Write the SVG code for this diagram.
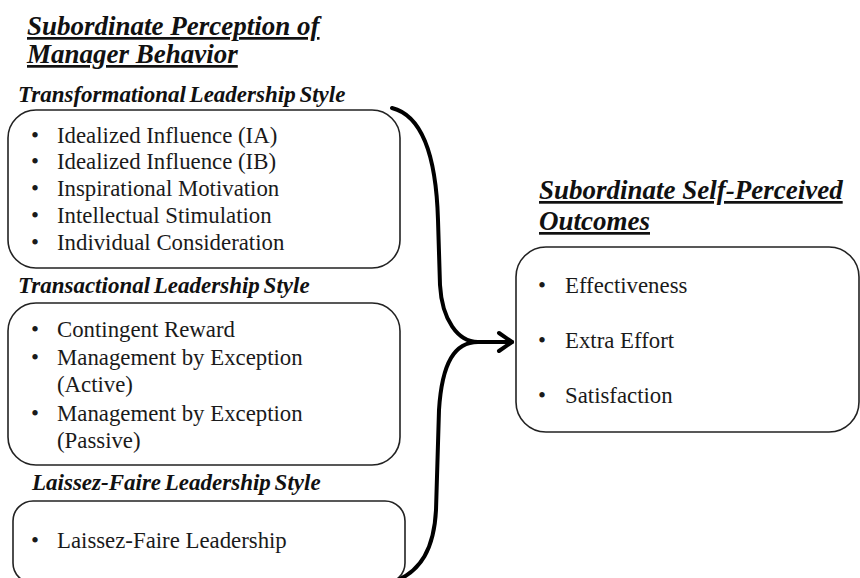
<svg xmlns="http://www.w3.org/2000/svg" width="860" height="578" viewBox="0 0 860 578">
<style>
.title{font-family:"Liberation Serif","Times New Roman",serif;font-weight:bold;font-style:italic;font-size:27px;fill:#111;text-decoration:underline;}
.head{font-family:"Liberation Serif","Times New Roman",serif;font-weight:bold;font-style:italic;font-size:23px;fill:#111;}
.item{font-family:"Liberation Serif","Times New Roman",serif;font-size:22.8px;fill:#1a1a1a;}
.box{fill:#fff;stroke:#222;stroke-width:1.6;}
.brace{fill:none;stroke:#000;stroke-width:4;stroke-linecap:round;stroke-linejoin:round;}
</style>
<rect width="860" height="578" fill="#fff"/>
<g id="title-left">
<text class="title" x="27" y="35">Subordinate Perception of</text>
<text class="title" x="27" y="63">Manager Behavior</text>
</g>
<g id="transformational">
<text class="head" x="18" y="102" word-spacing="-2">Transformational Leadership Style</text>
<rect class="box" x="8" y="110" width="392" height="158" rx="28"/>
<text class="item" x="31" y="143">•</text><text class="item" x="57" y="143">Idealized Influence (IA)</text>
<text class="item" x="31" y="169">•</text><text class="item" x="57" y="169">Idealized Influence (IB)</text>
<text class="item" x="31" y="196">•</text><text class="item" x="57" y="196">Inspirational Motivation</text>
<text class="item" x="31" y="223">•</text><text class="item" x="57" y="223">Intellectual Stimulation</text>
<text class="item" x="31" y="250">•</text><text class="item" x="57" y="250">Individual Consideration</text>
</g>
<g id="transactional">
<text class="head" x="18" y="293" word-spacing="-2">Transactional Leadership Style</text>
<rect class="box" x="8" y="303" width="392" height="162" rx="28"/>
<text class="item" x="31" y="337">•</text><text class="item" x="57" y="337">Contingent Reward</text>
<text class="item" x="31" y="365">•</text><text class="item" x="57" y="365">Management by Exception</text>
<text class="item" x="57" y="392">(Active)</text>
<text class="item" x="31" y="421">•</text><text class="item" x="57" y="421">Management by Exception</text>
<text class="item" x="57" y="448">(Passive)</text>
</g>
<g id="laissez-faire">
<text class="head" x="32" y="490" word-spacing="-2">Laissez-Faire Leadership Style</text>
<rect class="box" x="13" y="501" width="392" height="82" rx="20"/>
<text class="item" x="31" y="548">•</text><text class="item" x="57" y="548">Laissez-Faire Leadership</text>
</g>
<g id="outcomes">
<text class="title" x="539" y="199">Subordinate Self-Perceived</text>
<text class="title" x="539" y="230">Outcomes</text>
<rect class="box" x="516" y="247" width="343" height="185" rx="30"/>
<text class="item" x="538" y="293">•</text><text class="item" x="565" y="293">Effectiveness</text>
<text class="item" x="538" y="348">•</text><text class="item" x="565" y="348">Extra Effort</text>
<text class="item" x="538" y="403">•</text><text class="item" x="565" y="403">Satisfaction</text>
</g>
<g id="connectors">
<path class="brace" d="M 392 108 C 420 115, 436 150, 438 220 L 440 285 C 442 320, 458 342, 478 342"/>
<path class="brace" d="M 478 342 C 455 342, 442 362, 439 410 L 436 510 C 434 550, 420 570, 398 580"/>
<path class="brace" d="M 478 342 L 512 342"/>
<path class="brace" d="M 499 333 L 512 342 L 499 351"/>
</g>
</svg>
